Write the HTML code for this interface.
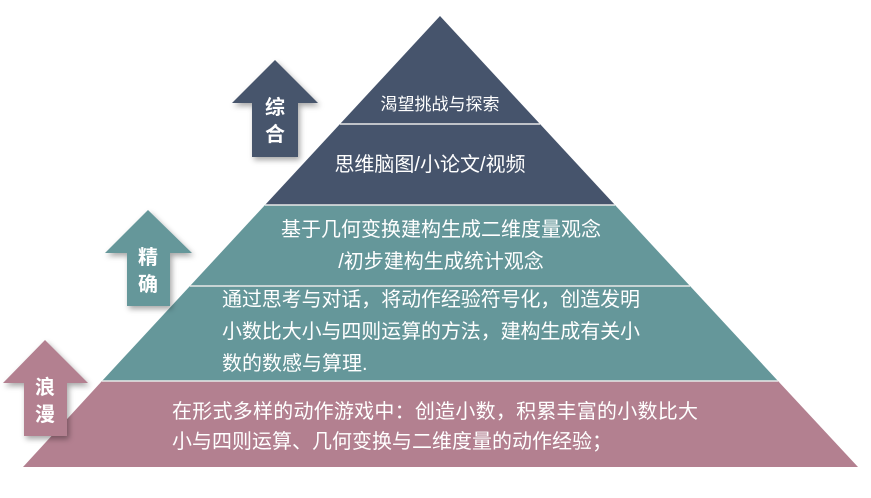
<!DOCTYPE html>
<html><head><meta charset="utf-8"><style>
html,body{margin:0;padding:0;background:#fff;width:871px;height:498px;overflow:hidden}
svg text{font-family:"Liberation Sans","Noto Sans CJK SC",sans-serif;fill:#fff}
</style></head><body>
<svg width="871" height="498" viewBox="0 0 871 498" xmlns="http://www.w3.org/2000/svg">
<defs>
<filter id="sh" x="-30%" y="-30%" width="160%" height="160%"><feDropShadow dx="2" dy="3" stdDeviation="3" flood-color="#000" flood-opacity="0.35"/></filter>
</defs>
<polygon points="440,16 615,205 265,205" fill="#46546c"/>
<polygon points="265,205 615,205 778,381 102,381" fill="#65979a"/>
<polygon points="102,381 778,381 858,467 23,467" fill="#b38090"/>
<line x1="340" y1="124" x2="540" y2="124" stroke="#e8e8e8" stroke-width="1.5"/>
<line x1="265" y1="205" x2="615" y2="205" stroke="#e8e8e8" stroke-width="1.5"/>
<line x1="190" y1="286" x2="690" y2="286" stroke="#e8e8e8" stroke-width="1.5"/>
<line x1="102" y1="381" x2="778" y2="381" stroke="#e8e8e8" stroke-width="1.5"/>
<polygon filter="url(#sh)" points="275,60 318,103 298,103 298,157 252,157 252,103 232,103" fill="#46546c"/>
<polygon filter="url(#sh)" points="148,210 192,253 170,253 170,306 127,306 127,253 105,253" fill="#65979a"/>
<polygon filter="url(#sh)" points="45,340 88,383 67,383 67,436 24,436 24,383 3,383" fill="#b38090"/>
<g font-size="20" font-weight="bold" text-anchor="middle">
<text x="275" y="114">综</text><text x="275" y="141">合</text>
<text x="148" y="264">精</text><text x="148" y="291">确</text>
<text x="45" y="394">浪</text><text x="45" y="421">漫</text>
</g>
<g font-size="20">
<text x="440" y="110" text-anchor="middle" font-size="17">渴望挑战与探索</text>
<text x="430" y="171" text-anchor="middle" font-size="20">思维脑图/小论文/视频</text>
<text x="441" y="236" text-anchor="middle">基于几何变换建构生成二维度量观念</text>
<text x="441" y="268" text-anchor="middle">/初步建构生成统计观念</text>
<text x="222" y="306" textLength="418">通过思考与对话，将动作经验符号化，创造发明</text>
<text x="222" y="338" textLength="418">小数比大小与四则运算的方法，建构生成有关小</text>
<text x="222" y="370">数的数感与算理.</text>
<text x="172" y="418" textLength="526">在形式多样的动作游戏中：创造小数，积累丰富的小数比大</text>
<text x="172" y="448">小与四则运算、几何变换与二维度量的动作经验；</text>
</g>
</svg>
</body></html>
